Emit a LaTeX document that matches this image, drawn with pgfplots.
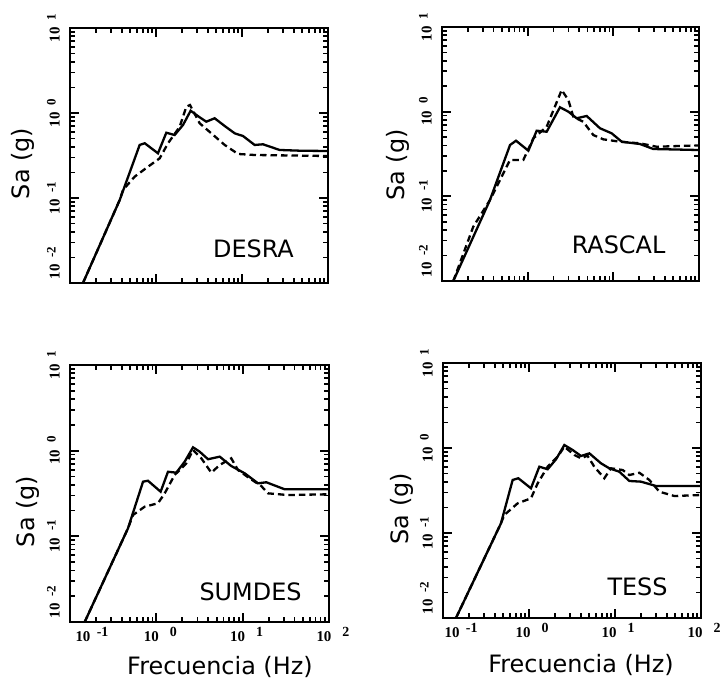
\documentclass[border=0pt]{standalone}
\usepackage{pgfplots}
\pgfplotsset{compat=1.18}
\usepackage{fontspec}
\setmainfont{DejaVu Sans}
\newfontfamily\tickfont{Liberation Serif}

\newcommand{\tky}[1]{{\tickfont\bfseries\fontsize{15}{15}\selectfont 10\hspace{7bp}\raisebox{4bp}{\fontsize{13}{13}\selectfont #1}}}
\newcommand{\tkx}[1]{{\tickfont\bfseries\fontsize{15}{15}\selectfont 10\makebox[18bp][r]{\raisebox{5bp}{\fontsize{14}{14}\selectfont #1}}}}

\pgfplotsset{
  every axis/.append style={
    scale only axis,
    axis line style={line width=2.3bp},
    tick align=inside,
    tick style={black, line width=1.7bp},
    major tick length=9bp, minor tick length=5bp,
    xtick={0.1,1,10,100}, ytick={0.01,0.1,1,10},
    minor xtick={0.2,0.3,0.4,0.5,0.6,0.7,0.8,0.9,2,3,4,5,6,7,8,9,20,30,40,50,60,70,80,90},
    minor ytick={0.02,0.03,0.04,0.05,0.06,0.07,0.08,0.09,0.2,0.3,0.4,0.5,0.6,0.7,0.8,0.9,2,3,4,5,6,7,8,9},
    yticklabels={\hspace{40bp}\tky{-2},\tky{-1},\tky{0},\tky{1}},
    yticklabel style={xshift=-9bp, rotate=90, anchor=south, inner sep=1bp},
    ylabel={Sa (g)},
    label style={font=\fontsize{24}{28}\selectfont, inner sep=0pt},
    clip=false,
  },
}
\tikzset{
  mysolid/.style={black, line width=2.3bp},
  mydashed/.style={black, line width=2.3bp, dash pattern=on 6.5bp off 4bp},
  mytag/.style={font=\fontsize{24}{28}\selectfont, inner sep=0pt},
}

\begin{document}
\begin{tikzpicture}
\useasboundingbox (0,0) rectangle (725bp,684bp);

% ---------------- DESRA ----------------
\begin{loglogaxis}[anchor=south west, at={(70bp,401bp)}, width=258bp, height=255bp,
  xmin=0.1, xmax=100, ymin=0.01, ymax=10, xticklabels={},
  ylabel style={at={(axis description cs:-0.182,0.469)}, anchor=center}]
\addplot[mysolid, mark=none] coordinates {
(0.1416,0.01) (0.3784,0.0946) (0.6457,0.4207) (0.7396,0.4406) (1.054,0.3357)
(1.318,0.5861) (1.648,0.5508) (2.061,0.7228) (2.529,1.064) (3.221,0.8892)
(3.846,0.7907) (4.808,0.8670) (6.295,0.7031) (8.222,0.5768) (10.28,0.5358)
(14.03,0.4207) (17.54,0.4285) (27.42,0.3673) (48.98,0.3597) (100,0.3573)};
\addplot[mydashed, mark=none] coordinates {
(0.1416,0.01) (0.3784,0.0946) (0.4130,0.1242) (0.5649,0.1782) (0.8072,0.2333)
(1.104,0.2931) (1.380,0.4406) (1.888,0.6902) (2.254,1.186) (2.483,1.242)
(3.221,0.7568) (4.395,0.5768) (6.295,0.4207) (8.974,0.3296) (14.03,0.3206)
(100,0.3119)};
\node[mytag] at (rel axis cs:0.711,0.135) {DESRA};
\end{loglogaxis}

% ---------------- RASCAL ----------------
\begin{loglogaxis}[anchor=south west, at={(442bp,403bp)}, width=257bp, height=254bp,
  xmin=0.1, xmax=100, ymin=0.01, ymax=10, xticklabels={},
  ylabel style={at={(axis description cs:-0.171,0.457)}, anchor=center}]
\addplot[mysolid, mark=none] coordinates {
(0.1355,0.01) (0.3631,0.0906) (0.6223,0.4036) (0.7311,0.4539) (1.019,0.3459)
(1.274,0.5957) (1.667,0.5794) (2.382,1.127) (2.985,1.0) (3.733,0.8356)
(4.887,0.8892) (6.982,0.6368) (9.572,0.5546) (12.53,0.4416) (20.46,0.4150)
(29.31,0.3622) (100,0.3524)};
\addplot[mydashed, mark=none] coordinates {
(0.1355,0.01) (0.2317,0.04375) (0.3631,0.0906) (0.5200,0.1871) (0.6223,0.2685)
(0.8892,0.2685) (1.164,0.4842) (1.667,0.6637) (2.495,1.803) (2.985,1.374)
(3.412,0.8710) (4.457,0.7603) (5.834,0.5297) (7.638,0.4710) (11.97,0.4416)
(20.46,0.4227) (32.06,0.3855) (100,0.3999)};
\node[mytag] at (rel axis cs:0.687,0.142) {RASCAL};
\end{loglogaxis}

% ---------------- SUMDES ----------------
\begin{loglogaxis}[anchor=south west, at={(70bp,62bp)}, width=259bp, height=257bp,
  xmin=0.1, xmax=100, ymin=0.01, ymax=10,
  xticklabels={\hspace{36bp}\tkx{-1},\tkx{0},\tkx{1},\tkx{2}},
  xticklabel style={anchor=north, xshift=4bp, yshift=-5bp, inner sep=0pt},
  xlabel={Frecuencia (Hz)},
  ylabel style={at={(axis description cs:-0.162,0.430)}, anchor=center},
  xlabel style={at={(axis description cs:0.579,-0.175)}, anchor=center}]
\addplot[mysolid, mark=none] coordinates {
(0.1479,0.01) (0.4699,0.1242) (0.7015,0.4345) (0.7998,0.4457) (1.122,0.3319)
(1.365,0.5675) (1.702,0.5534) (2.128,0.7430) (2.661,1.094) (3.177,0.9727)
(3.972,0.7943) (5.420,0.8511) (7.379,0.6622) (10.54,0.5445) (15.07,0.4159)
(18.79,0.4276) (30.69,0.3540) (100,0.3540)};
\addplot[mydashed, mark=none] coordinates {
(0.1479,0.01) (0.4699,0.1242) (0.5370,0.1774) (0.7328,0.2218) (1.045,0.2432)
(1.250,0.3177) (1.629,0.5200) (2.223,0.7112) (2.661,1.019) (3.319,0.8147)
(4.335,0.5534) (5.420,0.6808) (7.379,0.8147) (8.831,0.5943) (12.05,0.4753)
(16.44,0.3864) (19.63,0.3177) (33.50,0.3034) (100,0.3097)};
\node[mytag] at (rel axis cs:0.697,0.119) {SUMDES};
\end{loglogaxis}

% ---------------- TESS ----------------
\begin{loglogaxis}[anchor=south west, at={(443bp,66bp)}, width=258bp, height=255bp,
  xmin=0.1, xmax=100, ymin=0.01, ymax=10,
  xticklabels={\hspace{30bp}\tkx{-1},\tkx{0},\tkx{1},\tkx{2}},
  xticklabel style={anchor=north, xshift=3bp, yshift=-5bp, inner sep=0pt},
  xlabel={Frecuencia (Hz)},
  ylabel style={at={(axis description cs:-0.159,0.429)}, anchor=center},
  xlabel style={at={(axis description cs:0.535,-0.184)}, anchor=center}]
\addplot[mysolid, mark=none] coordinates {
(0.1416,0.01) (0.4721,0.1300) (0.6457,0.4207) (0.7516,0.4406) (1.054,0.3357)
(1.318,0.6026) (1.648,0.5623) (2.061,0.7362) (2.576,1.084) (3.221,0.9462)
(4.027,0.8054) (5.035,0.8650) (6.871,0.6607) (8.590,0.5768) (11.22,0.5260)
(14.69,0.4093) (20.04,0.4018) (29.99,0.3573) (100,0.3573)};
\addplot[mydashed, mark=none] coordinates {
(0.1416,0.01) (0.4721,0.1300) (0.5164,0.1629) (0.7379,0.2234) (1.054,0.2559)
(1.262,0.3846) (1.648,0.6026) (2.153,0.7907) (2.576,1.035) (3.365,0.8279)
(4.027,0.7568) (4.786,0.8128) (5.741,0.6026) (7.516,0.4406) (8.974,0.5768)
(12.27,0.5508) (14.69,0.4808) (19.19,0.5117) (25.06,0.4207) (32.81,0.3062)
(48.98,0.2723) (100,0.2799)};
\node[mytag] at (rel axis cs:0.754,0.124) {TESS};
\end{loglogaxis}
\end{tikzpicture}
\end{document}
